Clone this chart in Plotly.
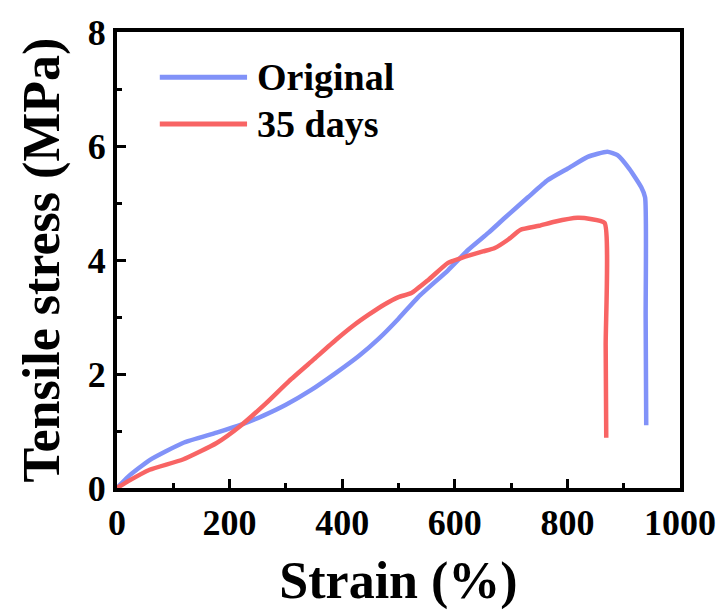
import plotly.graph_objects as go

# Original sample
orig_strain = [0, 20, 58, 117, 177, 223, 260, 300, 345, 389, 430, 465, 500, 535, 588, 624, 660, 690, 730, 765, 800, 836, 871, 889, 910, 931, 938, 939, 940]
orig_stress = [0, 0.2, 0.49, 0.79, 0.97, 1.12, 1.27, 1.46, 1.72, 2.02, 2.32, 2.62, 2.97, 3.35, 3.82, 4.18, 4.48, 4.75, 5.1, 5.4, 5.6, 5.81, 5.9, 5.84, 5.6, 5.28, 5.1, 3.0, 1.1]

# 35 days sample
aged_strain = [0, 20, 58, 117, 177, 218, 265, 306, 350, 389, 420, 447, 475, 500, 523, 553, 588, 610, 629, 650, 671, 695, 717, 750, 777, 818, 841, 866, 868, 869]
aged_stress = [0, 0.12, 0.32, 0.5, 0.79, 1.08, 1.49, 1.88, 2.26, 2.6, 2.85, 3.04, 3.22, 3.35, 3.42, 3.65, 3.95, 4.03, 4.09, 4.15, 4.21, 4.36, 4.53, 4.6, 4.67, 4.74, 4.72, 4.65, 2.5, 0.88]

names = ["Original", "35 days"]
colors = ["#8192F8", "#F86464"]

FONT = "Times New Roman, Liberation Serif, serif"

fig = go.Figure()
fig.add_trace(go.Scatter(x=orig_strain, y=orig_stress, mode="lines", name=names[0],
                         line=dict(color=colors[0], width=4.5, shape="spline", smoothing=0.5)))
fig.add_trace(go.Scatter(x=aged_strain, y=aged_stress, mode="lines", name=names[1],
                         line=dict(color=colors[1], width=4.5, shape="spline", smoothing=0.5)))

# custom legend (long line samples like the reference)
leg_y = [0.901, 0.798]
for i in range(2):
    fig.add_shape(type="line", xref="paper", yref="paper", x0=0.076, x1=0.231, y0=leg_y[i], y1=leg_y[i],
                  line=dict(color=colors[i], width=5))
    fig.add_annotation(xref="paper", yref="paper", x=0.245, y=leg_y[i], text=names[i], showarrow=False,
                       xanchor="left", yanchor="middle",
                       font=dict(family=FONT, size=38, color="black", weight="bold"))

axis_common = dict(showline=True, linewidth=4, linecolor="black", mirror=True,
                   ticks="inside", ticklen=9, tickwidth=3, tickcolor="black",
                   showgrid=False, zeroline=False, automargin=False,
                   tickfont=dict(family=FONT, size=36, color="black", weight="bold"))

fig.update_xaxes(range=[0, 1000], tickvals=[0, 200, 400, 600, 800, 1000],
                 minor=dict(ticks="inside", dtick=100, ticklen=5, tickwidth=3, tickcolor="black"),
                 title=dict(text="Strain (%)", font=dict(family=FONT, size=52, color="black", weight="bold"),
                            standoff=20),
                 **axis_common)
fig.update_yaxes(range=[0, 8], tickvals=[0, 2, 4, 6, 8],
                 minor=dict(ticks="inside", dtick=1, ticklen=5, tickwidth=3, tickcolor="black"),
                 title=dict(text="Tensile stress (MPa)", font=dict(family=FONT, size=52, color="black", weight="bold"),
                            standoff=13),
                 **axis_common)

fig.update_layout(width=726, height=612, showlegend=False,
                  margin=dict(l=117, r=46, t=32, b=124),
                  paper_bgcolor="white", plot_bgcolor="white")

fig.write_html("out.html", config={"displayModeBar": False},
               post_script="document.body.style.margin='0';")
